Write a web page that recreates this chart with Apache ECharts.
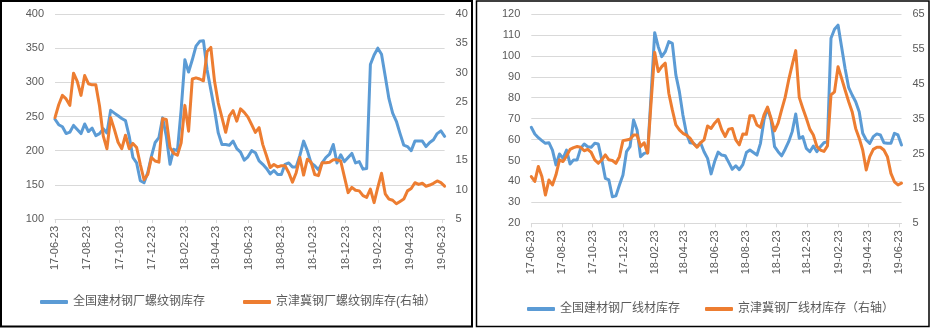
<!DOCTYPE html>
<html><head><meta charset="utf-8">
<script src="https://cdn.jsdelivr.net/npm/echarts@6/dist/echarts.min.js"></script>
<style>html,body{margin:0;padding:0;background:#fff}#c{width:931px;height:328px}</style>
</head><body><div id="c"></div>
<script>
// weekly observations starting 2017-06-23 (106 weeks)
var startDate = '2017-06-23';
var weekCount = 106;
var tickLabels = ['17-06-23','17-08-23','17-10-23','17-12-23','18-02-23','18-04-23','18-06-23','18-08-23','18-10-23','18-12-23','19-02-23','19-04-23','19-06-23'];

var rebarNames = ['全国建材钢厂螺纹钢库存', '京津冀钢厂螺纹钢库存(右轴）'];
var wireNames = ['全国建材钢厂线材库存', '京津冀钢厂线材库存（右轴）'];

var rebarNational = [246,238,235,225,227,237,231,225,239,228,233,222,225,232,226,259,255,251,247,244,221,190,182,156,153,168,192,212,219,248,221,180,202,200,260,333,
315,333,353,360,361,318,289,260,226,209,209,208,214,203,198,186,191,200,197,185,180,174,166,171,165,165,180,182,176,176,193,214,200,182,178,
172,182,190,195,209,182,194,184,190,196,182,184,173,174,326,340,350,341,309,276,255,243,225,208,206,200,214,214,214,206,212,216,225,229,221];
var rebarJJJ = [22.3,24.5,26.1,25.5,24.4,29.9,28.5,26.1,29.5,28.1,27.9,27.9,24.3,19.2,17.0,22.3,20.3,18.1,17.0,19.3,17.0,17.9,17.2,14.3,11.7,12.6,15.5,14.9,14.7,22.1,22.0,17.2,16.2,15.9,18.0,24.4,
20.0,28.9,29.1,28.9,28.6,33.6,34.3,28.5,24.8,22.3,19.8,22.6,23.5,21.7,23.8,23.2,22.4,21.1,19.8,20.6,17.7,15.8,13.8,14.3,13.9,14.1,14.1,12.9,11.3,12.9,15.5,12.5,15.2,14.7,12.6,
12.4,14.6,14.6,14.7,15.1,15.1,14.9,12.2,9.5,10.4,9.9,9.8,9.0,8.7,10.1,7.8,10.4,12.8,9.3,8.4,8.2,7.6,8.0,8.4,9.8,10.2,11.2,10.9,11.1,10.6,10.8,11.1,11.5,11.2,10.6];
var wireNational = [65.9,62.7,60.9,59.5,58.2,58.5,55.0,47.9,53.1,51.0,55.0,48.3,50.3,50.3,55.8,57.9,56.6,56.3,58.2,57.9,50.3,41.5,40.7,32.7,33.1,38.3,43.1,54.2,56.6,69.4,64.6,51.8,53.4,53.8,82.0,111.1,
104.4,99.6,102.0,106.8,106.0,90.9,82.9,71.7,63.0,58.5,58.2,56.6,58.5,54.2,51.0,43.6,49.5,54.0,52.6,52.3,49.1,45.8,47.5,45.6,48.0,53.8,55.0,53.8,52.6,58.2,69.4,75.0,69.4,56.6,
54.2,52.2,55.4,59.0,63.8,72.2,60.6,61.4,55.8,54.2,56.9,54.2,56.6,58.5,59.0,108.4,112.7,114.7,104.4,94.0,85.0,81.3,78.1,73.3,63.0,59.8,58.2,61.4,62.7,62.2,58.5,58.2,58.2,63.0,62.2,57.4];
var wireJJJ = [18.4,17.0,21.3,18.4,13.1,17.4,16.0,18.9,23.2,22.7,24.3,26.2,26.7,27.0,26.8,25.8,26.2,25.3,23.2,22.2,23.2,24.6,23.2,23.0,22.2,24.1,28.7,28.9,29.1,30.3,30.3,27.0,28.1,25.1,40.0,54.0,
48.5,49.9,50.9,42.3,37.5,33.2,31.8,30.8,30.3,29.4,27.9,26.8,28.1,28.9,32.9,32.2,33.7,34.8,31.8,29.9,32.0,32.2,28.9,27.5,30.6,30.5,35.8,35.8,33.2,32.5,36.1,38.3,35.1,31.5,
33.7,37.5,41.1,46.1,50.4,54.5,41.1,38.0,35.1,32.0,30.3,27.0,26.0,25.6,27.2,41.8,42.7,49.9,46.6,43.2,39.9,37.0,32.2,29.4,26.0,20.3,24.1,26.2,26.8,26.8,26.0,24.1,19.3,16.9,16.0,16.5];

var rebarLeftTicks = [100,150,200,250,300,350,400];
var rebarRightTicks = [5,10,15,20,25,30,35,40];
var wireLeftTicks = [20,30,40,50,60,70,80,90,100,110,120];
var wireRightTicks = [5,15,25,35,45,55,65];

// ---- helpers: convert dates to day offsets from start ----
function dayOf(y, m, d) { return Date.UTC(y, m - 1, d) / 86400000; }
var sp = startDate.split('-').map(Number);
var day0 = dayOf(sp[0], sp[1], sp[2]);
var xDays = [];
for (var i = 0; i < weekCount; i++) xDays.push(i * 7);
var xMax = xDays[xDays.length - 1];
var tickPos = [], labelMap = {};
tickLabels.forEach(function (t) {
  var p = t.split('-').map(Number);
  var v = dayOf(2000 + p[0], p[1], p[2]) - day0;
  tickPos.push(v); labelMap[v] = t;
});
function pairs(vals) { return vals.map(function (v, i) { return [xDays[i], v]; }); }

var BLUE = '#5B9BD5', ORANGE = '#ED7D31', GRID = '#D9D9D9', TXT = '#595959';
var FONT = "'Liberation Sans','Noto Sans CJK SC',sans-serif";

function xAxisCfg(gi) {
  return {
    type: 'value', gridIndex: gi, min: 0, max: xMax,
    axisLine: { show: true, lineStyle: { color: GRID, width: 1 } },
    axisTick: { show: true, customValues: tickPos, length: 4, lineStyle: { color: GRID } },
    axisLabel: { customValues: tickPos, rotate: 90, margin: 7, fontSize: 11, color: TXT, fontFamily: FONT,
      formatter: function (v) { return labelMap[v] || ''; } },
    splitLine: { show: false }
  };
}
function yLeft(gi, ticks) {
  return {
    type: 'value', gridIndex: gi, position: 'left', min: ticks[0], max: ticks[ticks.length - 1],
    interval: ticks[1] - ticks[0],
    axisLine: { show: false }, axisTick: { show: false },
    axisLabel: { margin: 11, fontSize: 11, color: TXT, fontFamily: FONT },
    splitLine: { show: true, lineStyle: { color: GRID, width: 1 } }
  };
}
function yRight(gi, ticks) {
  return {
    type: 'value', gridIndex: gi, position: 'right', min: ticks[0], max: ticks[ticks.length - 1],
    axisLine: { show: false }, axisTick: { show: false },
    axisLabel: { customValues: ticks, margin: 11, fontSize: 11, color: TXT, fontFamily: FONT },
    splitLine: { show: false }
  };
}
function lineSeries(name, xi, yi, vals, color) {
  return {
    type: 'line', name: name, xAxisIndex: xi, yAxisIndex: yi, data: pairs(vals),
    showSymbol: false, symbol: 'none', smooth: false, animation: false,
    lineStyle: { color: color, width: 3, join: 'round', cap: 'round' }, itemStyle: { color: color }
  };
}

var chart = echarts.init(document.getElementById('c'), null, { renderer: 'canvas' });
chart.setOption({
  animation: false,
  backgroundColor: '#fff',
  textStyle: { fontFamily: FONT },
  grid: [
    { left: 55, top: 14, width: 389.6, height: 205 },
    { left: 531.3, top: 14, width: 370.2, height: 209.3 }
  ],
  xAxis: [xAxisCfg(0), xAxisCfg(1)],
  yAxis: [yLeft(0, rebarLeftTicks), yRight(0, rebarRightTicks), yLeft(1, wireLeftTicks), yRight(1, wireRightTicks)],
  legend: [
    { data: rebarNames, left: 40, top: 296, padding: 0, itemWidth: 28, itemHeight: 4, itemGap: 38, icon: 'roundRect',
      textStyle: { fontSize: 12, color: TXT, fontFamily: FONT } },
    { data: wireNames, left: 527, top: 303, padding: 0, itemWidth: 28, itemHeight: 4, itemGap: 25, icon: 'roundRect',
      textStyle: { fontSize: 12, color: TXT, fontFamily: FONT } }
  ],
  series: [
    lineSeries(rebarNames[0], 0, 0, rebarNational, BLUE),
    lineSeries(rebarNames[1], 0, 1, rebarJJJ, ORANGE),
    lineSeries(wireNames[0], 1, 2, wireNational, BLUE),
    lineSeries(wireNames[1], 1, 3, wireJJJ, ORANGE)
  ],
  graphic: [
    { type: 'rect', shape: { x: 1, y: 1, width: 471, height: 325.5 }, style: { fill: null, stroke: '#000', lineWidth: 2 }, silent: true },
    { type: 'rect', shape: { x: 476.5, y: 1, width: 452.5, height: 325.5 }, style: { fill: null, stroke: '#000', lineWidth: 1.5 }, silent: true }
  ]
});
</script></body></html>
